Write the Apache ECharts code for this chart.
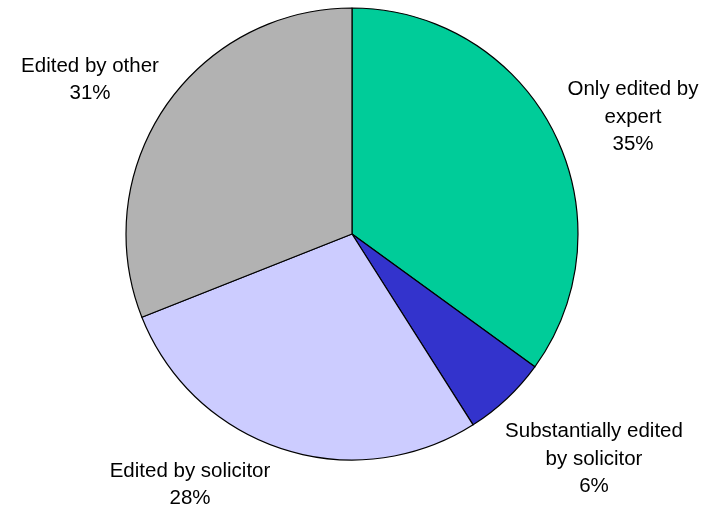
<!DOCTYPE html>
<html>
<head>
<meta charset="utf-8">
<script src="https://cdn.jsdelivr.net/npm/echarts@6/dist/echarts.min.js"></script>
<style>
html,body{margin:0;padding:0;background:#fff;}
#chart{width:710px;height:507px;}
</style>
</head>
<body>
<div id="chart"></div>
<script>
// Data
const categories = ["Only edited by\nexpert", "Substantially edited\nby solicitor", "Edited by solicitor", "Edited by other"];
const values = [35, 6, 28, 31];
const colors = ["#00CC99", "#3333CC", "#CCCCFF", "#B2B2B2"];
// label centre positions (layout)
const labelPos = [[633, 117], [594, 459], [190, 485], [90, 80]];

const chart = echarts.init(document.getElementById('chart'), null, {renderer: 'canvas'});
chart.setOption({
  animation: false,
  backgroundColor: '#ffffff',
  series: [{
    type: 'pie',
    center: [352, 234],
    radius: [0, 226],
    startAngle: 90,
    clockwise: true,
    data: categories.map((c, i) => ({name: c, value: values[i], itemStyle: {color: colors[i]}})),
    itemStyle: {borderColor: '#000', borderWidth: 1.2},
    emphasis: {disabled: true},
    label: {
      show: true,
      position: 'outside',
      formatter: p => p.name + '\n' + p.value + '%',
      fontFamily: 'Liberation Sans, Arial, sans-serif',
      fontSize: 20.5,
      lineHeight: 27.5,
      color: '#000',
      align: 'center',
      overflow: 'none',
      width: 300
    },
    labelLine: {show: false},
    labelLayout: function (params) {
      const p = labelPos[params.dataIndex];
      return {x: p[0], y: p[1], align: 'center', verticalAlign: 'middle'};
    }
  }]
});
</script>
</body>
</html>
